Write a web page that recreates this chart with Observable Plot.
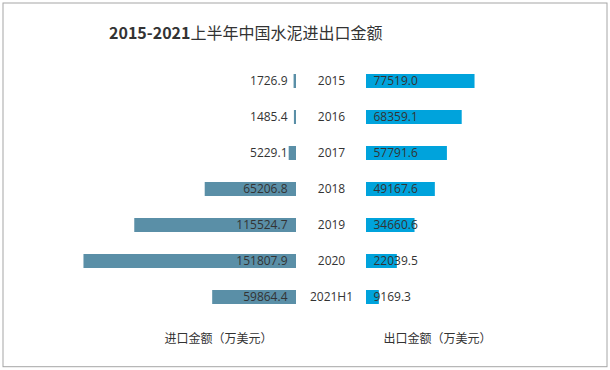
<!DOCTYPE html>
<html>
<head>
<meta charset="utf-8">
<script src="https://cdn.jsdelivr.net/npm/d3@7"></script>
<script src="https://cdn.jsdelivr.net/npm/@observablehq/plot@0.6"></script>
<style>
  html, body { margin: 0; padding: 0; background: #fff; }
</style>
</head>
<body>
<div id="chart"></div>
<script>
const titleYears = "2015-2021";
const titleRest = "上半年中国水泥进出口金额";
const years = ["2015", "2016", "2017", "2018", "2019", "2020", "2021H1"];
const importVals = [1726.9, 1485.4, 5229.1, 65206.8, 115524.7, 151807.9, 59864.4];
const exportVals = [77519.0, 68359.1, 57791.6, 49167.6, 34660.6, 22039.5, 9169.3];
const importLabel = "进口金额（万美元）";
const exportLabel = "出口金额（万美元）";

const gap = 25000; // half-width of the central year column, in value units
const rows = years.map((y, i) => ({year: y, imp: importVals[i], exp: exportVals[i]}));
const font = "'Open Sans', 'Noto Sans CJK SC', sans-serif";
const cjk = "'Noto Sans CJK SC', sans-serif";
const titleSplit = -100714; // x value where the bold digits meet the CJK part

const chart = Plot.plot({
  width: 610,
  height: 370,
  marginTop: 0, marginBottom: 0, marginLeft: 0, marginRight: 0,
  style: {fontFamily: font, background: "#fff", color: "#333"},
  x: {domain: [-236429, 199286], axis: null},
  y: {domain: years, range: [48.7, 329.9], padding: 0.6, axis: null},
  marks: [
    Plot.frame({stroke: "#a6a6a6", insetLeft: 2.5, insetRight: 3.5, insetTop: 2.5, insetBottom: 3.8}),
    Plot.barX(rows, {y: "year", x1: -gap, x2: d => -gap - d.imp, fill: "#5a8fa7"}),
    Plot.barX(rows, {y: "year", x1: gap, x2: d => gap + d.exp, fill: "#00a3dc"}),
    Plot.text(rows, {y: "year", x: -gap, dx: -9, text: d => d.imp.toFixed(1), textAnchor: "end", fontSize: 12, fill: "#333"}),
    Plot.text(rows, {y: "year", x: gap, dx: 7, text: d => d.exp.toFixed(1), textAnchor: "start", fontSize: 12, fill: "#333"}),
    Plot.text(rows, {y: "year", x: 0, text: "year", textAnchor: "middle", fontSize: 12, fill: "#333"}),
    Plot.text([titleYears], {x: titleSplit, frameAnchor: "top", lineAnchor: "middle", dy: 33, text: d => d, textAnchor: "end", fontSize: 16, fontWeight: "bold", fill: "#333", fontFamily: cjk}),
    Plot.text([titleRest], {x: titleSplit, frameAnchor: "top", lineAnchor: "middle", dy: 33, text: d => d, textAnchor: "start", fontSize: 16, fontWeight: "normal", fill: "#333", fontFamily: cjk}),
    Plot.text([importLabel], {x: -80714, frameAnchor: "bottom", lineAnchor: "middle", dy: -31, text: d => d, fontSize: 12, fill: "#333", fontFamily: cjk}),
    Plot.text([exportLabel], {x: 75714, frameAnchor: "bottom", lineAnchor: "middle", dy: -31, text: d => d, fontSize: 12, fill: "#333", fontFamily: cjk})
  ]
});
document.getElementById("chart").appendChild(chart);
</script>
</body>
</html>
